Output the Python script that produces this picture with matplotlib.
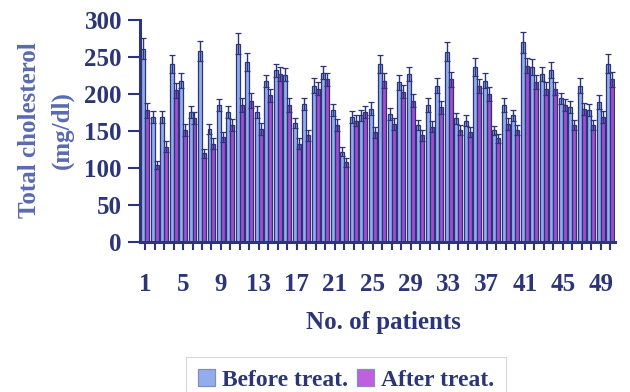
import matplotlib
matplotlib.use("Agg")
import matplotlib.pyplot as plt
import numpy as np

patients = list(range(1, 51))
before = [261, 169, 169, 241, 218, 176, 258, 153, 185, 176,
          268, 243, 176, 218, 232, 226, 161, 187, 211, 229,
          178, 122, 169, 171, 180, 241, 173, 216, 227, 158,
          185, 211, 257, 167, 164, 236, 218, 151, 185, 171,
          270, 236, 227, 232, 194, 182, 211, 178, 189, 241]
after = [178, 104, 129, 205, 151, 167, 120, 133, 142, 158,
         185, 191, 153, 198, 227, 185, 133, 144, 207, 220,
         158, 108, 164, 176, 148, 218, 160, 203, 191, 144,
         156, 182, 220, 151, 149, 211, 200, 140, 160, 151,
         238, 216, 207, 207, 185, 158, 180, 158, 169, 220]
before_err = [14, 8, 8, 12, 10, 8, 13, 7, 8, 8,
              14, 12, 8, 8, 9, 9, 7, 8, 10, 9,
              8, 6, 8, 8, 9, 12, 8, 10, 10, 7,
              9, 10, 13, 7, 7, 12, 10, 6, 9, 8,
              14, 11, 10, 11, 8, 8, 10, 8, 9, 13]
after_err = [10, 6, 7, 10, 8, 8, 6, 7, 7, 8,
             10, 10, 8, 9, 9, 9, 7, 7, 9, 9,
             8, 6, 7, 8, 7, 10, 8, 9, 9, 7,
             8, 9, 10, 7, 7, 9, 9, 6, 8, 7,
             10, 9, 9, 9, 8, 7, 8, 7, 8, 10]
xtick_labels = [1, 5, 9, 13, 17, 21, 25, 29, 33, 37, 41, 45, 49]

plt.rcParams['font.family'] = ['Liberation Serif', 'DejaVu Serif']
plt.rcParams['font.weight'] = 'bold'

navy = '#2c3578'
blue = '#93acf0'
purple = '#a24cd0'

fig = plt.figure(figsize=(6.3, 3.92), dpi=100)
ax = fig.add_axes([140/630, 1-242/392, 475/630, 222/392])

x = np.array(patients, dtype=float)
w = 0.42
ax.bar(x - w/2, before, width=w, color=blue, edgecolor=navy, linewidth=0.9,
       yerr=before_err, error_kw=dict(ecolor=navy, elinewidth=1.0, capsize=2.5, capthick=0.9),
       label='Before treat.', zorder=2)
ax.bar(x + w/2, after, width=w, color=purple, edgecolor=navy, linewidth=0.9,
       yerr=after_err, error_kw=dict(ecolor=navy, elinewidth=1.0, capsize=2.5, capthick=0.9),
       label='After treat.', zorder=2)

ax.set_xlim(0.47, 50.5)
ax.set_ylim(0, 300)
ax.set_yticks([0, 50, 100, 150, 200, 250, 300])
ax.set_xticks(patients)
ax.set_xticklabels([str(p) if p in xtick_labels else '' for p in patients])

for s in ['top', 'right']:
    ax.spines[s].set_visible(False)
for s in ['left', 'bottom']:
    ax.spines[s].set_color(navy)
    ax.spines[s].set_linewidth(2.2)

ax.tick_params(axis='y', length=9, width=1.5, color=navy, pad=4,
               labelsize=18, labelcolor=navy)
ax.tick_params(axis='x', length=6, width=1.5, color=navy, pad=16,
               labelsize=18, labelcolor=navy)
for lab in ax.get_xticklabels() + ax.get_yticklabels():
    lab.set_fontweight('bold')

fig.text(30/630, 1-130/392, 'Total cholesterol', rotation=90, ha='center', va='center',
         fontsize=18, fontweight='bold', color='#5a6ab0')
fig.text(62/630, 1-130/392, '(mg/dl)', rotation=90, ha='center', va='center',
         fontsize=18, fontweight='bold', color='#5a6ab0')
fig.text(383/630, 1-323/392, 'No. of patients', ha='center', va='center',
         fontsize=18, fontweight='bold', color=navy)

leg = fig.legend(loc='center', bbox_to_anchor=(346/630, 1-380/392), ncol=2,
                 fontsize=17, frameon=True, fancybox=False, handlelength=0.7,
                 handleheight=0.7, handletextpad=0.3, columnspacing=0.4,
                 borderpad=0.5)
leg.get_frame().set_edgecolor('#cccccc')
leg.get_frame().set_linewidth(0.8)
for t in leg.get_texts():
    t.set_color(navy)
    t.set_fontweight('bold')
for h, c in zip(leg.legend_handles, [blue, '#c060e0']):
    h.set_facecolor(c)
    h.set_edgecolor('#8090b0')

fig.savefig('out.png', dpi=100)
